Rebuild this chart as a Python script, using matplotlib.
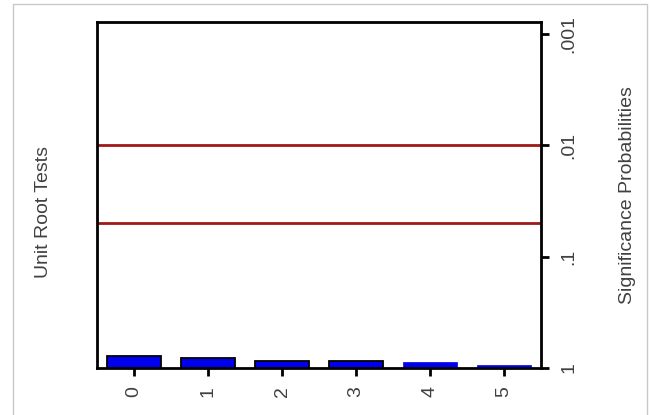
import matplotlib
matplotlib.use('Agg')
import matplotlib.pyplot as plt
from matplotlib.patches import Rectangle

plt.rcParams['font.family'] = ['Liberation Sans', 'DejaVu Sans']

# data
lags = [0, 1, 2, 3, 4, 5]
pvalues = [0.78, 0.82, 0.86, 0.865, 0.88, 0.94]
edged = [True, True, True, True, False, False]
ref_levels = [0.05, 0.01]
ytick_vals = [0.001, 0.01, 0.1, 1]
ytick_labels = ['.001', '.01', '.1', '1']

W, H = 651, 415
fig = plt.figure(figsize=(W / 100, H / 100), dpi=100)
# light frame round the picture
fig.patches.append(Rectangle((13 / W, -0.01), (647 - 13) / W, 1 - 4 / H + 0.01,
                             transform=fig.transFigure, fill=False,
                             edgecolor='#c8c8c8', linewidth=1))

ax = fig.add_axes([97 / W, 1 - 368 / H, (541 - 97) / W, (368 - 22) / H])
ax.set_yscale('log')

for x, p, e in zip(lags, pvalues, edged):
    ax.bar(x, 1 - p, bottom=p, width=0.72, color='#0000ee',
           edgecolor='black' if e else '#0000ee', linewidth=1.3 if e else 0.5)

for lvl in ref_levels:
    ax.axhline(lvl, color='#a01818', linewidth=2)

ax.set_ylim(1, 10 ** -3.108)
ax.set_xlim(-0.5, 5.5)
ax.yaxis.tick_right()
ax.set_yticks(ytick_vals)
ax.set_yticklabels(ytick_labels)
ax.minorticks_off()
ax.set_xticks(lags)
ax.set_xticklabels([str(v) for v in lags])

for s in ax.spines.values():
    s.set_linewidth(2)
ax.tick_params(axis='both', direction='out', length=6, width=2, colors='black',
               labelcolor='#404040', labelsize=14, labelrotation=90)
ax.tick_params(axis='y', pad=14)
ax.tick_params(axis='x', pad=7)
for t in ax.get_yticklabels():
    t.set_va('center')
    t.set_ha('center')

fig.text(627 / W, 1 - 195 / H, 'Significance Probabilities', rotation=90, ha='center',
         va='center', color='#404040', fontsize=14)
fig.text(44 / W, 1 - 212 / H, 'Unit Root Tests', rotation=90, ha='center', va='center',
         color='#404040', fontsize=14)

fig.savefig('out.png', dpi=100)
